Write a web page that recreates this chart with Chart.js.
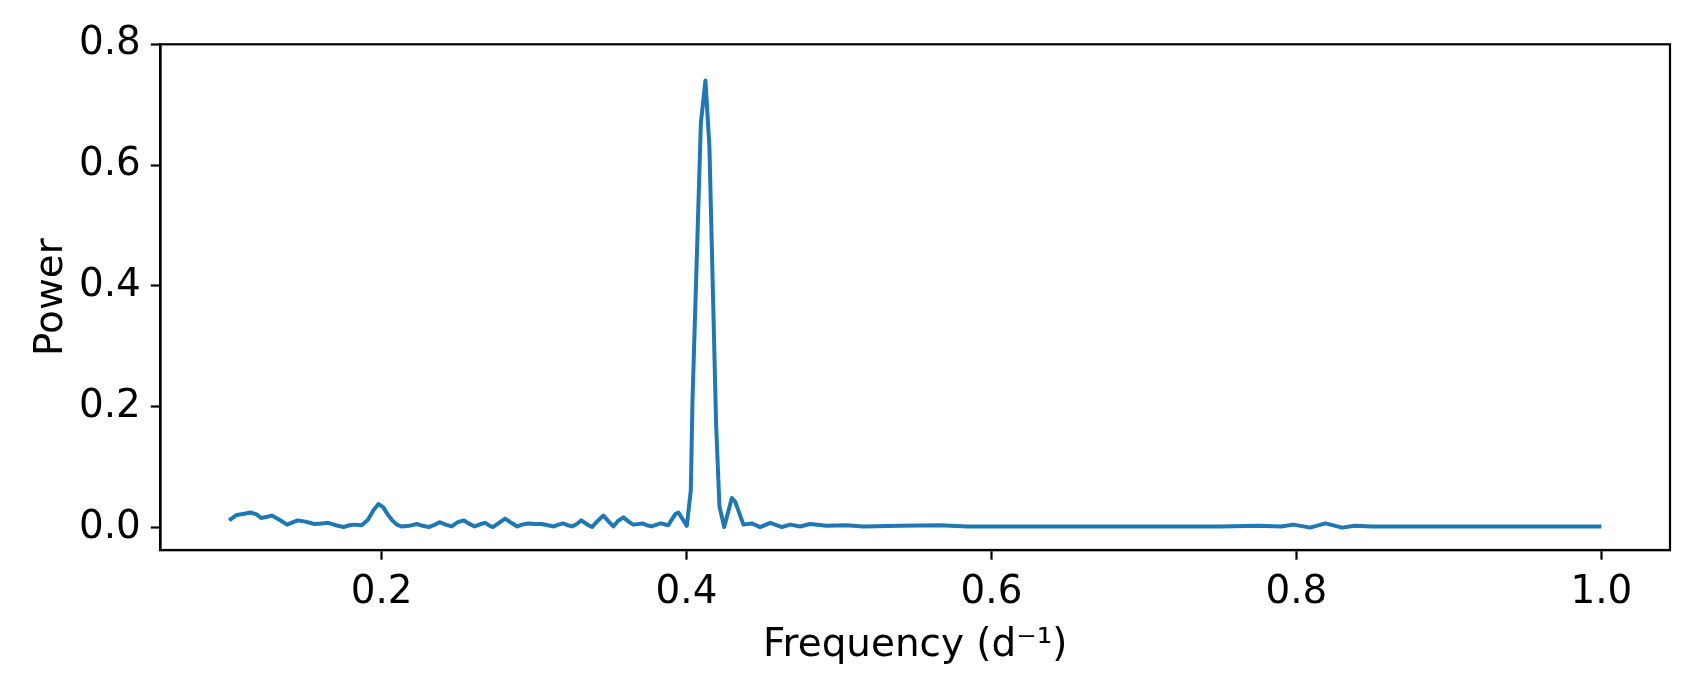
<!DOCTYPE html>
<html>
<head>
<meta charset="utf-8">
<script src="https://cdn.jsdelivr.net/npm/chart.js@4.4.0/dist/chart.umd.min.js"></script>
<style>
html,body{margin:0;padding:0;background:#ffffff;}
canvas{display:block;}
</style>
</head>
<body>
<canvas id="c" width="1700" height="700"></canvas>
<script>
// ---- data ----
const frequency = [
  0.100, 0.105, 0.110, 0.114, 0.118, 0.121, 0.125, 0.128, 0.133, 0.138,
  0.142, 0.145, 0.150, 0.156, 0.161, 0.165, 0.170, 0.175, 0.179, 0.182,
  0.187, 0.191, 0.195, 0.198, 0.201, 0.204, 0.207, 0.210, 0.213, 0.218,
  0.223, 0.227, 0.231, 0.235, 0.238, 0.242, 0.246, 0.250, 0.254, 0.257,
  0.261, 0.265, 0.268, 0.271, 0.273, 0.277, 0.281, 0.285, 0.289, 0.292,
  0.296, 0.301, 0.305, 0.309, 0.313, 0.316, 0.319, 0.322, 0.325, 0.328,
  0.331, 0.335, 0.338, 0.342, 0.3455, 0.349, 0.352, 0.355, 0.3586, 0.362,
  0.365, 0.371, 0.374, 0.377, 0.383, 0.388, 0.3925, 0.3947, 0.4002, 0.4028,
  0.4039, 0.4094, 0.4124, 0.4150, 0.4194, 0.4216, 0.4247, 0.4297, 0.4319, 0.4373,
  0.4428, 0.4483, 0.4549, 0.4625, 0.468, 0.4745, 0.481, 0.492, 0.505, 0.516,
  0.540, 0.566, 0.584, 0.600, 0.650, 0.700, 0.750, 0.775, 0.790, 0.798,
  0.809, 0.819, 0.830, 0.838, 0.850, 0.900, 0.950, 1.000
];
const power = [
  0.012, 0.021, 0.023, 0.025, 0.022, 0.016, 0.018, 0.020, 0.013, 0.005,
  0.009, 0.012, 0.010, 0.006, 0.007, 0.008, 0.004, 0.001, 0.004, 0.005,
  0.004, 0.013, 0.030, 0.039, 0.034, 0.022, 0.012, 0.005, 0.002, 0.003,
  0.006, 0.003, 0.001, 0.005, 0.009, 0.005, 0.002, 0.009, 0.012, 0.007,
  0.002, 0.006, 0.008, 0.003, 0.001, 0.008, 0.015, 0.008, 0.002, 0.005,
  0.007, 0.006, 0.006, 0.004, 0.002, 0.005, 0.007, 0.004, 0.002, 0.006,
  0.012, 0.005, 0.001, 0.012, 0.020, 0.010, 0.002, 0.011, 0.017, 0.010,
  0.005, 0.007, 0.004, 0.002, 0.007, 0.004, 0.022, 0.025, 0.003, 0.062,
  0.210, 0.670, 0.740, 0.631, 0.170, 0.035, 0.001, 0.049, 0.043, 0.005,
  0.007, 0.001, 0.008, 0.001, 0.005, 0.002, 0.006, 0.003, 0.004, 0.002,
  0.003, 0.004, 0.002, 0.002, 0.002, 0.002, 0.002, 0.003, 0.002, 0.005,
  0.000, 0.007, 0.000, 0.003, 0.002, 0.002, 0.002, 0.002
];
const xTickValues = [0.2, 0.4, 0.6, 0.8, 1.0];
const yTickValues = [0.0, 0.2, 0.4, 0.6, 0.8];
const xAxisLabel = 'Frequency (d\u207B\u00B9)';
const yAxisLabel = 'Power';

// ---- chart ----
Chart.defaults.font.family = "'DejaVu Sans', sans-serif";
Chart.defaults.color = '#000000';

const points = frequency.map((f, i) => ({ x: f, y: power[i] }));

const framePlugin = {
  id: 'frame',
  afterDraw(chart) {
    const { ctx, chartArea: a } = chart;
    ctx.save();
    ctx.strokeStyle = '#000000';
    ctx.lineWidth = 2.2;
    ctx.strokeRect(a.left, a.top, a.right - a.left, a.bottom - a.top);
    ctx.restore();
  }
};

new Chart(document.getElementById('c'), {
  type: 'line',
  data: {
    datasets: [{
      data: points,
      borderColor: '#1f77b4',
      borderWidth: 4,
      pointRadius: 0,
      fill: false,
      tension: 0,
      borderJoinStyle: 'round',
      borderCapStyle: 'butt'
    }]
  },
  options: {
    responsive: false,
    animation: false,
    devicePixelRatio: 1,
    layout: { padding: { left: 0, right: 30, top: 44.3, bottom: 0 } },
    plugins: { legend: { display: false }, tooltip: { enabled: false } },
    scales: {
      x: {
        type: 'linear',
        min: 0.055,
        max: 1.045,
        afterBuildTicks: (s) => { s.ticks = xTickValues.map(v => ({ value: v })); },
        afterFit: (s) => { s.height = 150; },
        ticks: {
          padding: 10,
          font: { size: 38.9 },
          color: '#000000',
          maxRotation: 0,
          autoSkip: false,
          callback: (v) => Number(v).toFixed(1)
        },
        grid: {
          display: true,
          drawOnChartArea: false,
          drawTicks: true,
          tickLength: 9.7,
          tickWidth: 2.2,
          tickColor: '#000000'
        },
        border: { display: true, color: '#000000', width: 2.2 },
        title: {
          display: true,
          text: xAxisLabel,
          font: { size: 38.9, lineHeight: 1 },
          color: '#000000',
          padding: { top: 0, bottom: 35 }
        }
      },
      y: {
        type: 'linear',
        min: -0.037,
        max: 0.8,
        afterBuildTicks: (s) => { s.ticks = yTickValues.map(v => ({ value: v })); },
        afterFit: (s) => { s.width = 160.5; },
        ticks: {
          padding: 10,
          font: { size: 38.9 },
          color: '#000000',
          autoSkip: false,
          callback: (v) => Number(v).toFixed(1)
        },
        grid: {
          display: true,
          drawOnChartArea: false,
          drawTicks: true,
          tickLength: 9.7,
          tickWidth: 2.2,
          tickColor: '#000000'
        },
        border: { display: true, color: '#000000', width: 2.2 },
        title: {
          display: true,
          text: yAxisLabel,
          font: { size: 38.9, lineHeight: 1 },
          color: '#000000',
          padding: { top: 32.5, bottom: 0 }
        }
      }
    }
  },
  plugins: [framePlugin]
});
</script>
</body>
</html>
